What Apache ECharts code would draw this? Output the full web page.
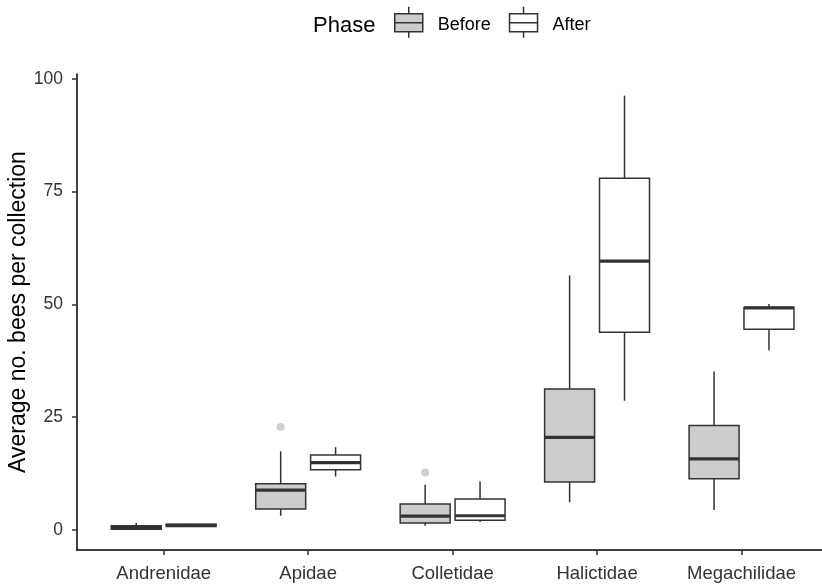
<!DOCTYPE html>
<html><head><meta charset="utf-8">
<script src="https://cdn.jsdelivr.net/npm/echarts@6/dist/echarts.min.js"></script>
<style>html,body{margin:0;padding:0;background:#fff}#c{width:822px;height:585px}</style>
</head><body><div id="c"></div>
<script>
const categories = ['Andrenidae', 'Apidae', 'Colletidae', 'Halictidae', 'Megachilidae'];
// [min, Q1, median, Q3, max]
const beforeStats = [
  [0.0, 0.1, 0.5, 0.9, 1.5],
  [3.1, 4.6, 8.8, 10.2, 17.4],
  [0.9, 1.5, 3.0, 5.7, 10.0],
  [6.1, 10.6, 20.5, 31.2, 56.4],
  [4.4, 11.3, 15.7, 23.1, 35.1]
];
const afterStats = [
  [0.6, 0.7, 0.95, 1.2, 1.3],
  [11.8, 13.3, 14.9, 16.6, 18.3],
  [1.7, 2.1, 3.1, 6.8, 10.7],
  [28.6, 43.8, 59.6, 78.0, 96.3],
  [39.8, 44.5, 49.2, 49.3, 50.1]
];
// outliers of the Before phase: [category, value]
const beforeOutliers = [['Apidae', 22.8], ['Colletidae', 12.7]];
const yTicks = [0, 25, 50, 75, 100];

const DODGE = 0.19, HALF_W = 0.173;
const catPos = categories.map((c, i) => i + 1);

function toData(stats) { return stats.map((s, i) => [catPos[i]].concat(s)); }

function makeRender(offset, fill) {
  return function (params, api) {
    const x = api.value(0) + offset;
    const xl = api.coord([x - HALF_W, 0])[0];
    const xr = api.coord([x + HALF_W, 0])[0];
    const xc = api.coord([x, 0])[0];
    const y = k => api.coord([x, api.value(k)])[1];
    const yMin = y(1), yQ1 = y(2), yMed = y(3), yQ3 = y(4), yMax = y(5);
    const line = { stroke: '#333333', lineWidth: 1.5 };
    return {
      type: 'group',
      children: [
        { type: 'line', shape: { x1: xc, y1: yQ3, x2: xc, y2: yMax }, style: line },
        { type: 'line', shape: { x1: xc, y1: yQ1, x2: xc, y2: yMin }, style: line },
        { type: 'rect', shape: { x: xl, y: yQ3, width: xr - xl, height: yQ1 - yQ3 },
          style: { fill: fill, stroke: '#333333', lineWidth: 1.5 } },
        { type: 'line', shape: { x1: xl, y1: yMed, x2: xr, y2: yMed },
          style: { stroke: '#333333', lineWidth: 3.2 } }
      ]
    };
  };
}

const iconPath = 'path://M14,0L14,7M0,7L28,7L28,25L0,25ZM0,16L28,16M14,25L14,31';

const chart = echarts.init(document.getElementById('c'), null, { renderer: 'canvas' });
chart.setOption({
  animation: false,
  title: {
    text: 'Phase', left: 308, top: 10,
    textStyle: { fontFamily: 'Liberation Sans', fontSize: 22, fontWeight: 'normal', color: '#000' }
  },
  legend: {
    left: 389, top: 1, itemWidth: 28, itemHeight: 31, itemGap: 18,
    formatter: '{t|{name}}',
    textStyle: {
      fontFamily: 'Liberation Sans', fontSize: 18, color: '#000', padding: [0, 0, 0, 10],
      rich: { t: { fontFamily: 'Liberation Sans', fontSize: 18, color: '#000', padding: [6, 0, 0, 0] } }
    },
    data: [
      { name: 'Before', icon: iconPath, itemStyle: { color: '#cccccc', borderColor: '#333333', borderWidth: 1.5 } },
      { name: 'After', icon: iconPath, itemStyle: { color: '#ffffff', borderColor: '#333333', borderWidth: 1.5 } }
    ]
  },
  grid: { left: 77, right: -6.2, top: 74, bottom: 35, outerBoundsMode: 'none', containLabel: false },
  xAxis: {
    type: 'value', min: 0.4, max: 5.6,
    splitLine: { show: false },
    axisLine: { onZero: false, lineStyle: { color: '#000', width: 1.5 } },
    axisTick: { customValues: catPos, length: 5, lineStyle: { color: '#333', width: 1.5 } },
    axisLabel: {
      customValues: catPos, margin: 14,
      formatter: v => categories[Math.round(v) - 1],
      fontFamily: 'Liberation Sans', fontSize: 18.5, color: '#333'
    }
  },
  yAxis: {
    type: 'value', min: -4.5, max: 101.1,
    name: 'Average no. bees per collection', nameLocation: 'middle', nameGap: 47,
    nameMoveOverlap: false,
    nameTextStyle: { fontFamily: 'Liberation Sans', fontSize: 23, color: '#000' },
    splitLine: { show: false },
    axisLine: { show: true, onZero: false, lineStyle: { color: '#000', width: 1.5 } },
    axisTick: { show: true, customValues: yTicks, length: 5, lineStyle: { color: '#333', width: 1.5 } },
    axisLabel: { customValues: yTicks, margin: 14, fontFamily: 'Liberation Sans', fontSize: 17.5, color: '#333' }
  },
  series: [
    { name: 'Before', type: 'custom', data: toData(beforeStats), encode: { x: 0, y: [1, 2, 3, 4, 5] },
      itemStyle: { color: '#cccccc', borderColor: '#333333' }, renderItem: makeRender(-DODGE, '#cccccc') },
    { name: 'After', type: 'custom', data: toData(afterStats), encode: { x: 0, y: [1, 2, 3, 4, 5] },
      itemStyle: { color: '#ffffff', borderColor: '#333333' }, renderItem: makeRender(DODGE, '#ffffff') },
    { name: 'outliers', type: 'scatter', symbol: 'circle', symbolSize: 8,
      itemStyle: { color: '#c4c4c4' },
      data: beforeOutliers.map(o => [catPos[categories.indexOf(o[0])] - DODGE, o[1]]) }
  ]
});
</script></body></html>
